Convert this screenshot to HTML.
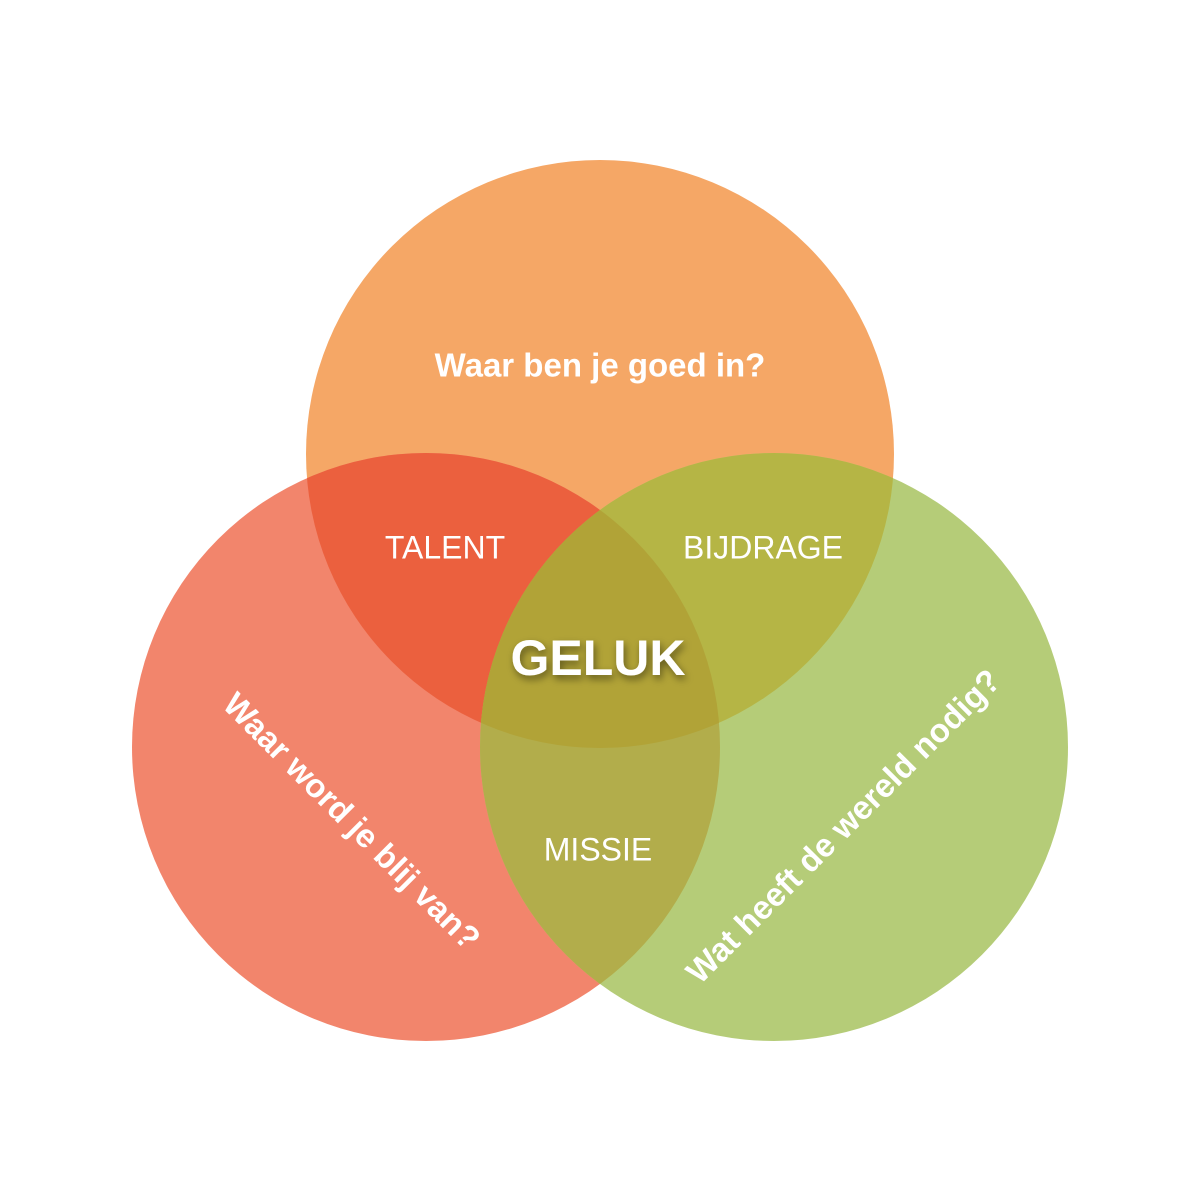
<!DOCTYPE html>
<html><head><meta charset="utf-8"><style>
html,body{margin:0;padding:0;background:#fff;}
svg{display:block}
text{font-family:"Liberation Sans",sans-serif;fill:#fff;text-anchor:middle;dominant-baseline:middle}
</style></head><body>
<svg width="1200" height="1200" viewBox="0 0 1200 1200">
<defs>
<clipPath id="cT"><circle cx="600" cy="454" r="294"/></clipPath>
<clipPath id="cL"><circle cx="426" cy="747" r="294"/></clipPath>
<clipPath id="cR"><circle cx="774" cy="747" r="294"/></clipPath>
<filter id="sh" x="-20%" y="-50%" width="140%" height="200%"><feDropShadow dx="2" dy="4" stdDeviation="4" flood-color="#000" flood-opacity="0.45"/></filter>
</defs>
<circle cx="600" cy="454" r="294" fill="#f5a766"/>
<circle cx="426" cy="747" r="294" fill="#f2856c"/>
<circle cx="774" cy="747" r="294" fill="#b5cc78"/>
<circle cx="426" cy="747" r="294" fill="#eb603e" clip-path="url(#cT)"/>
<circle cx="774" cy="747" r="294" fill="#b5b545" clip-path="url(#cT)"/>
<circle cx="774" cy="747" r="294" fill="#b2ad4b" clip-path="url(#cL)"/>
<g clip-path="url(#cT)"><circle cx="774" cy="747" r="294" fill="#b1a337" clip-path="url(#cL)"/></g>
<text x="600" y="368" font-size="33" font-weight="bold">Waar ben je goed in?</text>
<text x="445" y="550" font-size="32">TALENT</text>
<text x="763" y="550" font-size="32">BIJDRAGE</text>
<text x="598" y="852" font-size="32">MISSIE</text>
<text x="598" y="662" font-size="50" font-weight="bold" filter="url(#sh)">GELUK</text>
<text x="350" y="823" font-size="33" font-weight="bold" transform="rotate(45 350 823)">Waar word je blij van?</text>
<text x="845" y="828" font-size="33" font-weight="bold" transform="rotate(-45 845 828)">Wat heeft de wereld nodig?</text>
</svg>
</body></html>
